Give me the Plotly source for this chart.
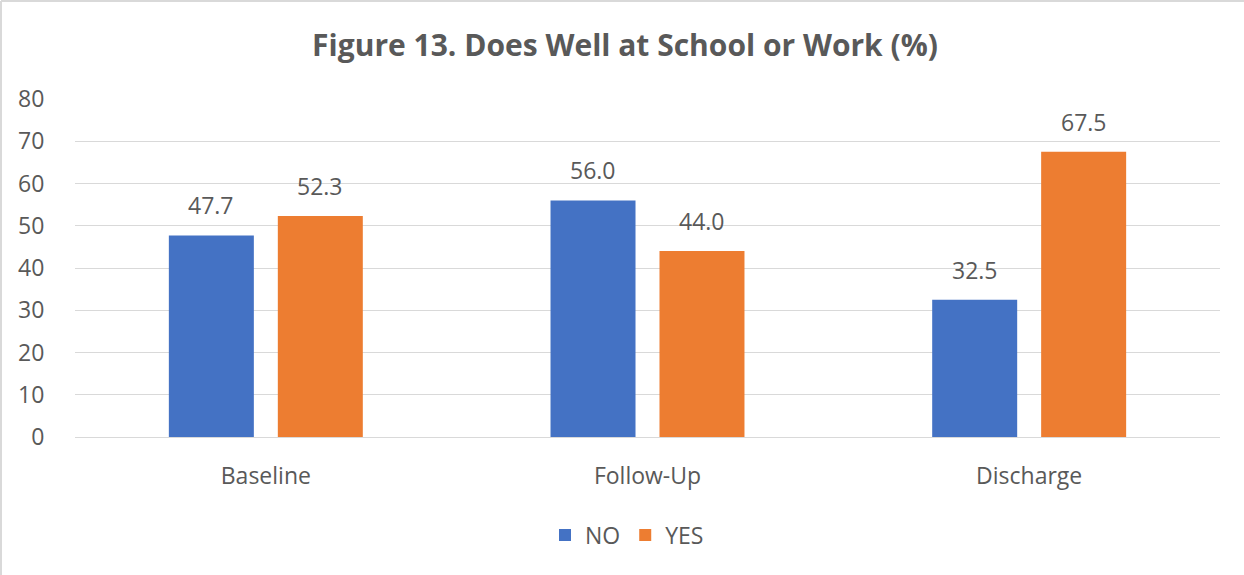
import plotly.graph_objects as go

categories = ["Baseline", "Follow-Up", "Discharge"]
no_values = [47.7, 56.0, 32.5]
yes_values = [52.3, 44.0, 67.5]
series_names = ["NO", "YES"]
y_ticks = [0, 10, 20, 30, 40, 50, 60, 70, 80]

W, H = 1244, 575
ML, MR, MT, MB = 75, 24, 99, 138
PW, PH = W - ML - MR, H - MT - MB

TEXT = "#595959"
GRID = "#d9d9d9"
BLUE = "#4472C4"
ORANGE = "#ED7D31"
FONT = "Open Sans"
FS = 23

fig = go.Figure()
fig.add_trace(go.Bar(name=series_names[0], x=categories, y=no_values,
                     marker=dict(color=BLUE, line=dict(width=0))))
fig.add_trace(go.Bar(name=series_names[1], x=categories, y=yes_values,
                     marker=dict(color=ORANGE, line=dict(width=0))))

# value labels above each bar
bargap, bargroupgap = 0.429, 0.22
slot_px = PW / len(categories) * (1 - bargap) / 2
annotations = []
for vals, shift in ((no_values, -slot_px / 2), (yes_values, slot_px / 2)):
    for c, v in zip(categories, vals):
        annotations.append(dict(x=c, y=v, text=f"{v:.1f}", showarrow=False,
                                xshift=shift, yshift=12, yanchor="bottom",
                                font=dict(family=FONT, size=FS, color=TEXT)))

# thin frame along the top and left edges
def px_x(p):
    return (p - ML) / PW

def px_y(p):
    return (H - MB - p) / PH

shapes = [
    dict(type="line", xref="paper", yref="paper", x0=px_x(1), x1=px_x(W),
         y0=px_y(1), y1=px_y(1), line=dict(color=GRID, width=2)),
    dict(type="line", xref="paper", yref="paper", x0=px_x(1), x1=px_x(1),
         y0=px_y(1), y1=px_y(H), line=dict(color=GRID, width=2)),
]

fig.update_layout(
    width=W, height=H,
    margin=dict(l=ML, r=MR, t=MT, b=MB),
    paper_bgcolor="white", plot_bgcolor="white",
    barmode="group", bargap=bargap, bargroupgap=bargroupgap,
    title=dict(text="<b>Figure 13. Does Well at School or Work (%)</b>",
               x=625 / W, xanchor="center", xref="container",
               y=1 - 45 / H, yanchor="middle", yref="container",
               font=dict(family=FONT, size=30, color=TEXT)),
    font=dict(family=FONT, size=FS, color=TEXT),
    legend=dict(orientation="h", x=px_x(627), xanchor="center",
                y=px_y(535), yanchor="middle",
                font=dict(family=FONT, size=FS, color=TEXT),
                itemwidth=30, traceorder="normal"),
    annotations=annotations,
    shapes=shapes,
)
fig.update_xaxes(showgrid=False, showline=True, linecolor=GRID, linewidth=1,
                 ticks="outside", ticklen=18, tickcolor="rgba(0,0,0,0)",
                 tickfont=dict(family=FONT, size=FS, color=TEXT))
fig.update_yaxes(range=[0, 80], tickvals=y_ticks, showgrid=True,
                 gridcolor=GRID, gridwidth=1, zeroline=False, showline=False,
                 ticks="outside", ticklen=25, tickcolor="rgba(0,0,0,0)",
                 tickfont=dict(family=FONT, size=FS, color=TEXT))

fig.write_html("out.html")
